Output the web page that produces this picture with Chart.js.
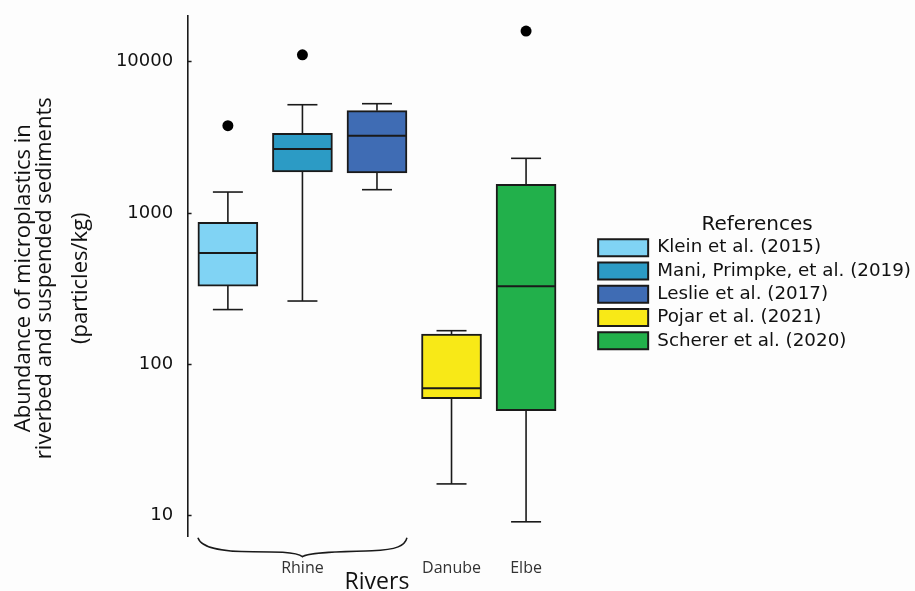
<!DOCTYPE html>
<html>
<head>
<meta charset="utf-8">
<script src="https://cdn.jsdelivr.net/npm/chart.js@4.4.1/dist/chart.umd.min.js"></script>
<style>
  html, body { margin: 0; padding: 0; background: #fdfdfd; }
</style>
</head>
<body>
<canvas id="chart" width="915" height="591"></canvas>
<script>
// one box per reference study, placed left to right
const references = ["Klein et al. (2015)", "Mani, Primpke, et al. (2019)", "Leslie et al. (2017)", "Pojar et al. (2021)", "Scherer et al. (2020)"];
const riverLabels = ["", "Rhine", "", "Danube", "Elbe"];
const boxColors = ["#80d3f4", "#2c9bc5", "#3f6cb4", "#f8e917", "#22b04b"];

// box statistics (particles/kg)
const whiskerLow  = [230, 262, 1426, 16.2, 9.1];
const q1          = [329, 1866, 1838, 59.2, 49.4];
const median      = [544, 2649, 3243, 69.4, 328];
const q3          = [868, 3364, 4746, 158.6, 1547];
const whiskerHigh = [1376, 5196, 5278, 166.8, 2298];
const outliers    = [3776, 11100, null, null, 15950];

const yTicks = [10, 100, 1000, 10000];
const yTitleLines = ["Abundance of microplastics in", "riverbed and suspended sediments", "(particles/kg)"];
const yTitleX = [24, 45, 81];
const xTitle = "Rivers";

const ink = "#1a1a1a";

const boxParts = {
    id: "boxParts",
    afterDatasetsDraw(chart){
        const {ctx, scales:{y}} = chart;
        const seg = (x1,y1,x2,y2) => { ctx.beginPath(); ctx.moveTo(x1,y1); ctx.lineTo(x2,y2); ctx.stroke(); };
        ctx.save();
        ctx.strokeStyle = ink;
        references.forEach((_,i)=>{
            const bar = chart.getDatasetMeta(i).data[0];
            const cx = bar.x, half = bar.width/2;
            const yHi = y.getPixelForValue(whiskerHigh[i]), yLo = y.getPixelForValue(whiskerLow[i]);
            ctx.lineWidth = 1.6;
            seg(cx, y.getPixelForValue(q3[i]), cx, yHi);
            seg(cx, y.getPixelForValue(q1[i]), cx, yLo);
            seg(cx-half/2, yHi, cx+half/2, yHi);
            seg(cx-half/2, yLo, cx+half/2, yLo);
            ctx.lineWidth = 2;
            const ym = y.getPixelForValue(median[i]);
            seg(cx-half+1, ym, cx+half-1, ym);
        });
        ctx.restore();
    },
    afterDraw(chart){
        const {ctx, chartArea, scales:{x}} = chart;
        // curly brace grouping the three Rhine studies
        const b0 = chart.getDatasetMeta(0).data[0], b1 = chart.getDatasetMeta(1).data[0], b2 = chart.getDatasetMeta(2).data[0];
        const xl = b0.x - b0.width/2, xr = b2.x + b2.width/2, xm = b1.x;
        const y0 = chartArea.bottom + 1, yb = y0 + 14, yt = y0 + 19;
        ctx.save();
        ctx.strokeStyle = ink;
        ctx.lineWidth = 1.5;
        ctx.beginPath();
        ctx.moveTo(xl, y0);
        ctx.bezierCurveTo(xl+4, yb-2, xl+30, yb, xl+55, yb);
        ctx.bezierCurveTo(xm-30, yb, xm-6, yb, xm, yt);
        ctx.bezierCurveTo(xm+6, yb, xr-60, yb, xr-35, yb-1);
        ctx.bezierCurveTo(xr-10, yb-2, xr-2, yb-6, xr, y0);
        ctx.stroke();
        ctx.fillStyle = "#111";
        // x axis title, centred under the middle box
        ctx.font = '23px "Open Sans"';
        ctx.textAlign = "center";
        ctx.textBaseline = "alphabetic";
        ctx.fillText(xTitle, x.getPixelForValue(2), chartArea.bottom + 52.5);
        // three-line y axis title
        const cy = (chartArea.top + chartArea.bottom)/2 + 2;
        ctx.font = '22px "Open Sans"';
        ctx.textBaseline = "middle";
        yTitleLines.forEach((line,i)=>{
            ctx.save();
            ctx.translate(yTitleX[i], cy);
            ctx.rotate(-Math.PI/2);
            ctx.fillText(line, 0, 0);
            ctx.restore();
        });
        ctx.restore();
    }
};

const boxSets = references.map((name,i)=>({
    type: "bar",
    label: name,
    data: [{x: i, y: [q1[i], q3[i]]}],
    backgroundColor: boxColors[i],
    borderColor: ink,
    borderWidth: 2,
    borderSkipped: false,
    barThickness: 60,
    grouped: false
}));

const outlierSet = {
    type: "scatter",
    label: "outliers",
    data: outliers.map((v,i)=> v==null ? null : {x: i, y: v}).filter(Boolean),
    backgroundColor: "#000",
    borderWidth: 0,
    pointRadius: 5.5
};

new Chart(document.getElementById("chart"), {
    type: "bar",
    data: { datasets: [...boxSets, outlierSet] },
    plugins: [boxParts],
    options: {
        responsive: false,
        animation: false,
        layout: { padding: { left: 97.5, top: 15.7, right: -6, bottom: 0 } },
        scales: {
            x: {
                type: "linear",
                offset: false,
                min: -0.541, max: 4.9,
                afterBuildTicks: s => { s.ticks = riverLabels.map((_,i)=>({value: i})); },
                afterFit: s => { s.height = 54.3; },
                grid: { display: false, drawTicks: false, offset: false },
                border: { display: false },
                ticks: {
                    padding: 22,
                    color: "#333",
                    font: { family: "Open Sans", size: 16, lineHeight: 1.2 },
                    callback: v => riverLabels[v]
                }
            },
            y: {
                type: "logarithmic",
                min: 7.255, max: 20140,
                afterBuildTicks: s => { s.ticks = yTicks.map(v=>({value: v})); },
                afterFit: s => { s.paddingTop = 0; s.paddingBottom = 0; },
                grid: { drawOnChartArea: false, drawTicks: true, tickLength: -4, tickColor: ink, tickWidth: 1.5 },
                border: { display: true, color: ink, width: 1.6 },
                ticks: {
                    padding: 18.4,
                    color: "#111",
                    font: { family: "DejaVu Sans", size: 18 },
                    callback: v => String(v)
                }
            }
        },
        plugins: {
            tooltip: { enabled: false },
            legend: {
                position: "right",
                align: "start",
                maxWidth: 340,
                labels: {
                    boxWidth: 50, boxHeight: 17, padding: 5,
                    color: "#111",
                    font: { family: "DejaVu Sans", size: 18.3 },
                    filter: item => item.datasetIndex < references.length
                },
                title: {
                    display: true, text: "References", color: "#111",
                    font: { family: "DejaVu Sans", size: 20, lineHeight: 1 },
                    padding: { top: 199.3, bottom: -1.5 }
                }
            }
        }
    }
});
</script>
</body>
</html>
